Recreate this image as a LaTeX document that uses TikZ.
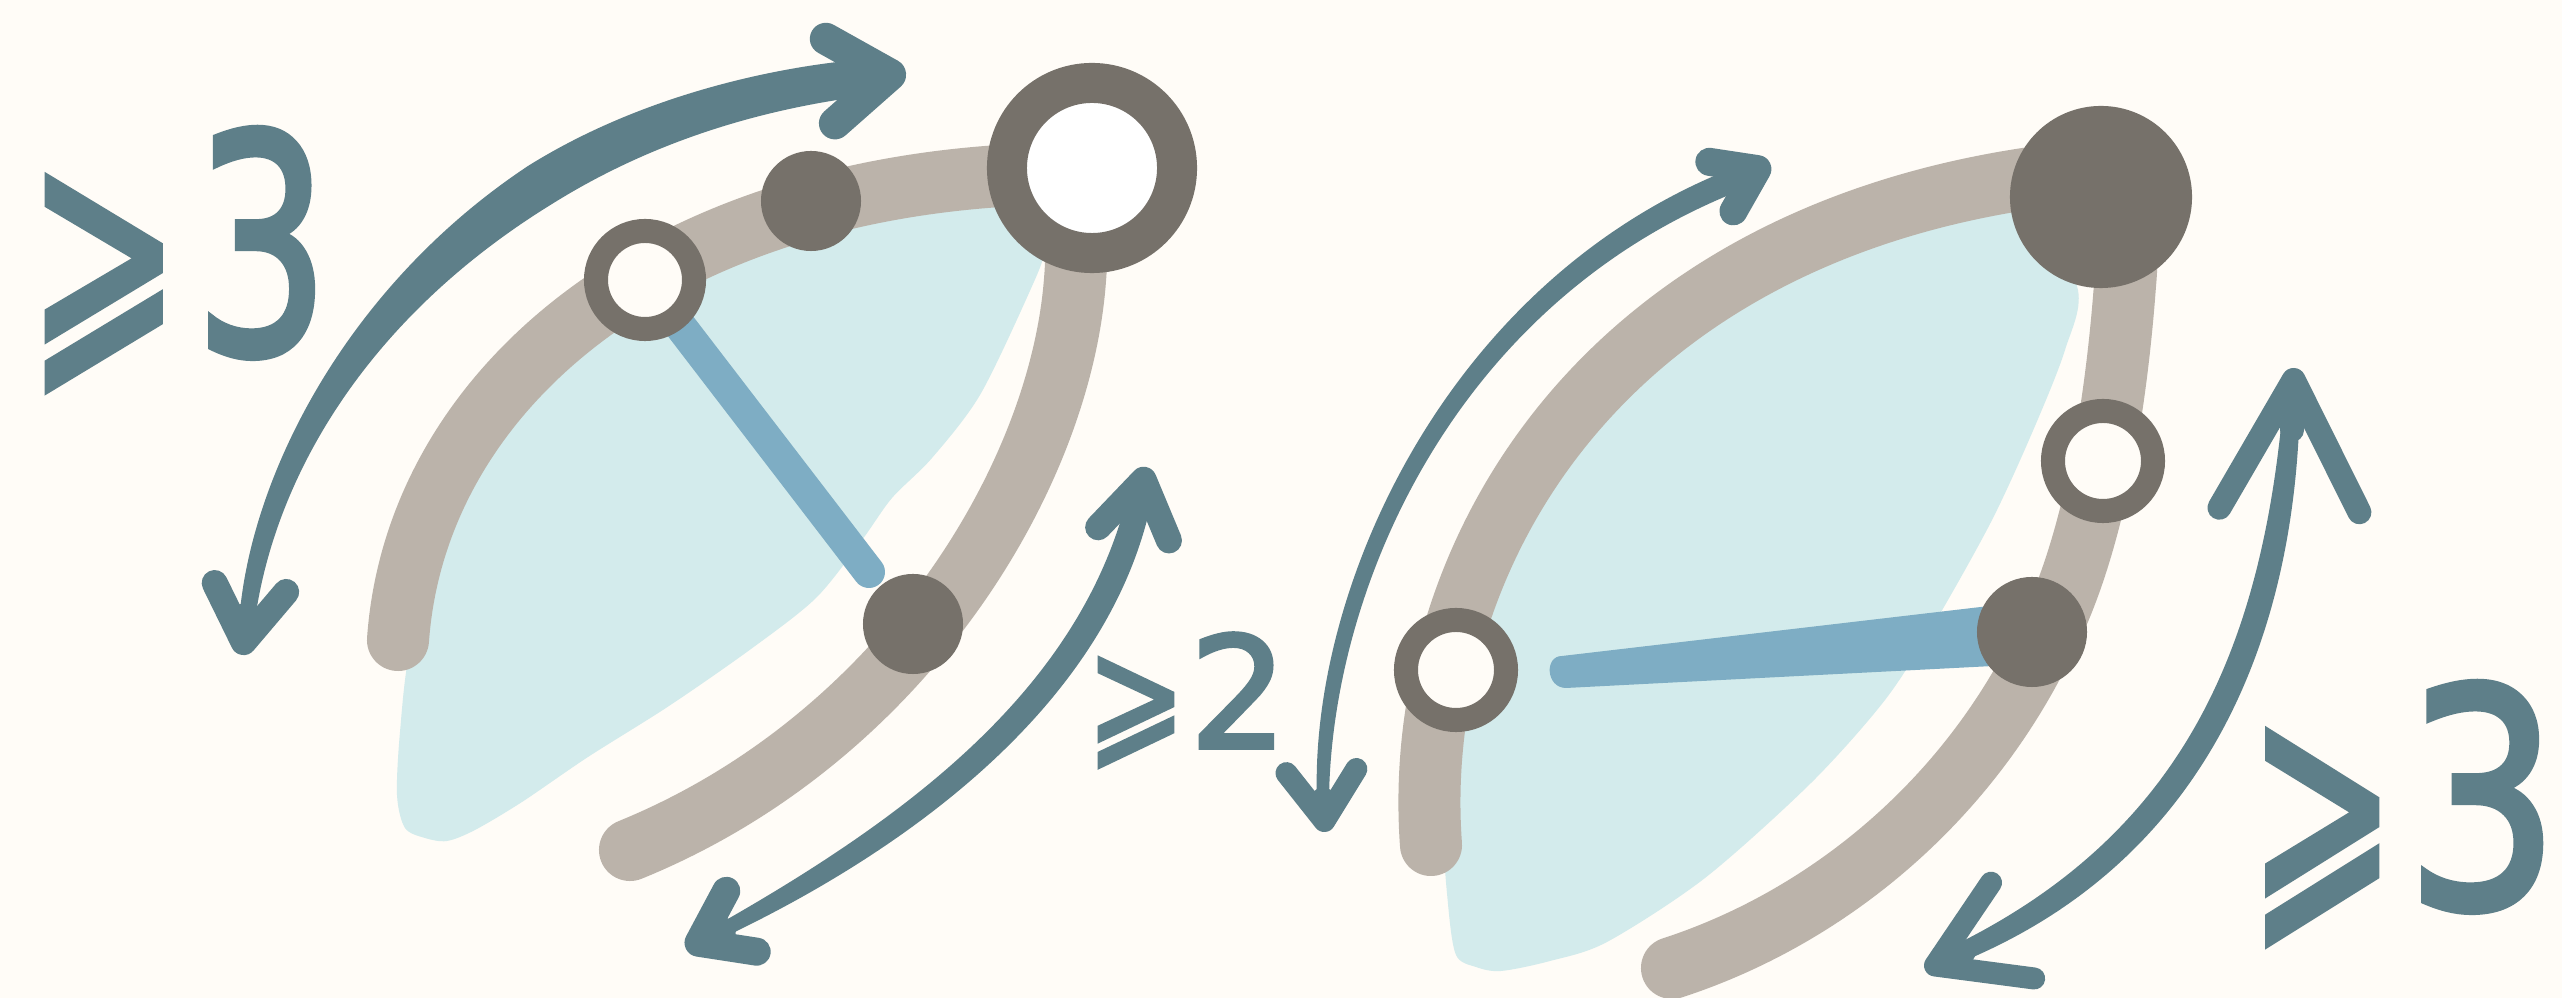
\documentclass[tikz,border=0pt]{standalone}
\usepackage{fontspec}
\newfontfamily\handfont[FakeBold=2.5]{DejaVu Sans}
\usetikzlibrary{arrows.meta,calc}
\definecolor{cPaper}{HTML}{FFFCF7}
\definecolor{cInk}{HTML}{5E7F89}
\definecolor{cLimb}{HTML}{BBB3AA}
\definecolor{cDot}{HTML}{76716A}
\definecolor{cWash}{HTML}{D3EBEC}
\definecolor{cChord}{HTML}{7EADC4}
\tikzset{
  limb/.style={draw=cLimb, line width=0.62cm, line cap=round, line join=round},
  chord/.style={draw=cChord, line width=0.32cm, line cap=round},
  shaft/.style={fill=cInk},
  barb/.style={draw=cInk, line cap=round, line join=round},
  dotFull/.style={circle, fill=cDot, inner sep=0pt},
  dotOpen/.style={circle, draw=cDot, fill=cPaper, inner sep=0pt, line width=0.24cm},
  tagBig/.style={text=cInk, inner sep=0pt, anchor=base west,
                 font=\handfont\fontsize{86}{86}\selectfont},
  tagSmall/.style={text=cInk, inner sep=0pt, anchor=base west,
                   font=\handfont\fontsize{44}{44}\selectfont},
}

\begin{document}
\begin{tikzpicture}[x=0.01cm, y=-0.01cm]
\fill[cPaper] (0,0) rectangle (2562,998);
\useasboundingbox (0,0) rectangle (2562,998);

% ========== LEFT LENS ==========
\coordinate (lTop) at (1092,168);
\coordinate (lMid) at (811,201);
\coordinate (lSide) at (645,280);
\coordinate (lLow) at (913,624);
\coordinate (lChordEnd) at (869,572);

\fill[cWash] plot[smooth cycle] coordinates {
  (1010,200) (900,205) (780,228) (680,270) (600,330) (540,390) (485,465)
  (441,554) (410,650) (400,732) (397,795) (405,828) (425,838) (447,841)
  (475,830) (522,802) (588,757) (669,706) (751,649) (816,598) (862,540)
  (892,498) (932,458) (980,395) (1029,293) (1045,250) (1040,215)};

\draw[limb] (398,640) .. controls (415,400) and (640,200) .. (1000,176)
            .. controls (1070,170) and (1080,220) .. (1075,280)
            .. controls (1060,480) and (900,740) .. (630,850);

\draw[chord] (lSide) -- (lChordEnd);

\node[dotOpen, minimum size=0.98cm] (sideL) at (lSide) {};
\node[dotFull, minimum size=1.0cm] (midL) at (lMid) {};
\node[dotFull, minimum size=1.0cm] (lowL) at (lLow) {};
\node[dotOpen, fill=white, line width=0.4cm, minimum size=1.7cm] (topL) at (lTop) {};

% outer sweep, tapered
\fill[shaft] (256,613) .. controls (278,471) and (370,316) .. (552,204)
             .. controls (672,129) and (792,105) .. (872,95)
          -- (868,59) .. controls (788,65) and (648,91) .. (528,166)
             .. controls (350,284) and (254,469) .. (240,611) -- cycle;
\draw[barb, line width=0.32cm, -{Straight Barb[round,length=0.6cm,width=0.85cm]}] (850,79) -- (906,73);
\draw[barb, line width=0.26cm, -{Straight Barb[round,length=0.55cm,width=0.72cm]}] (247,615) -- (242,655);

% inner sweep
\fill[shaft] (1126,502) .. controls (1075,696) and (898,823) .. (712,928)
          -- (718,940) .. controls (912,849) and (1105,704) .. (1150,508) -- cycle;
\draw[barb, line width=0.26cm, -{Straight Barb[round,length=0.55cm,width=0.72cm]}] (1138,510) -- (1146,467);
\draw[barb, line width=0.28cm, -{Straight Barb[round,length=0.48cm,width=0.68cm]}] (722,931) -- (686,949);

\node[tagBig] (tagL) at (27,353) {\scalebox{0.6}[1]{⩾}\kern0.15cm\scalebox{0.7}[1]{3}};
\node[tagSmall] (tagMid) at (1086,748) {\scalebox{0.76}[1]{⩾}\kern0.04cm 2};

% ========== RIGHT LENS ==========
\coordinate (rTop) at (2101,197);
\coordinate (rSide) at (2103,461);
\coordinate (rLow) at (2032,632);
\coordinate (rLeft) at (1456,670);
\coordinate (rChordEnd) at (1560,672);

\fill[cWash] plot[smooth cycle] coordinates {
  (2020,195) (2077,286) (2065,350) (2032,433) (1991,522) (1934,624)
  (1885,700) (1811,783) (1705,878) (1607,942) (1550,961) (1501,971)
  (1476,967) (1456,955) (1448,904) (1444,827) (1456,713) (1493,605)
  (1550,477) (1632,369) (1738,290) (1852,240) (1950,215)};

\draw[limb] (1431,845) .. controls (1410,560) and (1600,220) .. (2080,172)
            .. controls (2125,170) and (2130,230) .. (2125,285)
            .. controls (2115,420) and (2090,560) .. (2040,650)
            .. controls (1960,810) and (1820,920) .. (1672,968);

\fill[cChord] ($(rChordEnd)+(2,-16)$) -- ($(rLow)+(0,-31)$) -- ($(rLow)+(0,32)$)
  -- ($(rChordEnd)+(6,16)$) .. controls ($(rChordEnd)+(-14,16)$) and ($(rChordEnd)+(-16,-16)$) .. cycle;

\node[dotOpen, minimum size=1.0cm] (leftR) at (rLeft) {};
\node[dotOpen, minimum size=1.0cm] (sideR) at (rSide) {};
\node[dotFull, minimum size=1.1cm] (lowR) at (rLow) {};
\node[dotFull, minimum size=1.82cm] (topR) at (rTop) {};

% outer sweep, tapered
\fill[shaft] (1329,800) .. controls (1331,590) and (1454,301) .. (1744,189)
          -- (1736,167) .. controls (1446,279) and (1309,590) .. (1317,800) -- cycle;
\draw[barb, line width=0.28cm, -{Straight Barb[round,length=0.4cm,width=0.55cm]}] (1735,180) -- (1770,163);
\draw[barb, line width=0.22cm, -{Straight Barb[round,length=0.5cm,width=0.7cm]}] (1323,798) -- (1325,832);

% inner sweep
\fill[shaft] (2284,395) .. controls (2263,649) and (2183,834) .. (1951,947)
          -- (1959,963) .. controls (2197,866) and (2297,651) .. (2300,395) -- cycle;
\draw[barb, line width=0.24cm, -{Straight Barb[round,length=1.3cm,width=1.4cm]}] (2292,430) -- (2294,368);
\draw[barb, line width=0.22cm, -{Straight Barb[round,length=0.85cm,width=1.05cm]}] (1965,952) -- (1925,970);

\node[tagBig] (tagR) at (2248,907) {\scalebox{0.58}[1]{⩾}\kern0.1cm\scalebox{0.8}[1]{3}};

\end{tikzpicture}
\end{document}
